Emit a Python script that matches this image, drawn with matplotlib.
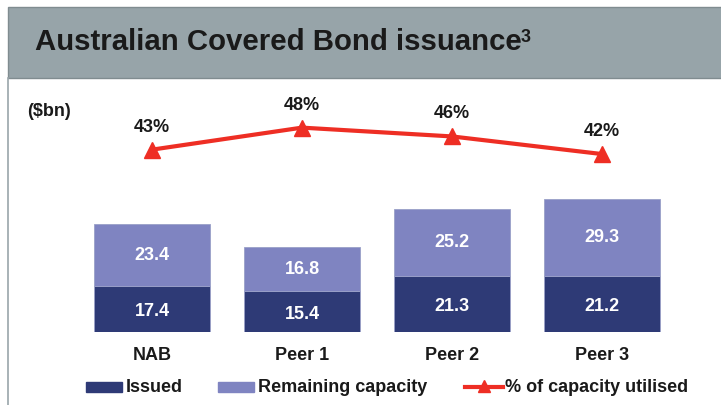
import matplotlib.pyplot as plt
from matplotlib.patches import Rectangle
from matplotlib.lines import Line2D

plt.rcParams['font.family'] = ['Liberation Sans', 'DejaVu Sans']

banks = ['NAB', 'Peer 1', 'Peer 2', 'Peer 3']
issued = [17.4, 15.4, 21.3, 21.2]
remaining = [23.4, 16.8, 25.2, 29.3]
utilised = [43, 48, 46, 42]

dark = '#2E3A76'
light = '#7F84C1'
red = '#EE2E24'
txt = '#1A1A1A'

W, H = 721, 405
fig = plt.figure(figsize=(W / 100, H / 100), dpi=100)


def fx(px):
    return px / W


def fy(py):
    return 1 - py / H


# header band and left border
fig.patches.append(Rectangle((fx(8), fy(78)), 1, 71 / H, transform=fig.transFigure,
                             facecolor='#97A4A9', edgecolor='#808C90', lw=1))
fig.add_artist(Line2D([fx(8), fx(8)], [0, fy(78)], transform=fig.transFigure,
                      color='#9AA5AA', lw=1.2))
fig.text(fx(35), fy(42), 'Australian Covered Bond issuance', fontsize=21.2,
         fontweight='bold', color=txt, va='center', ha='left')
fig.text(fx(521), fy(38), '3', fontsize=13, fontweight='bold', color=txt,
         va='center', ha='left')
fig.text(fx(27), fy(111), '($bn)', fontsize=13, fontweight='bold', color=txt,
         va='center', ha='left')

# bars
ax = fig.add_axes([fx(77), 73 / H, 600 / W, 233 / H])
x = range(len(banks))
ax.bar(x, issued, width=0.77, color=dark, edgecolor='#9AA0C8', lw=0.6)
ax.bar(x, remaining, width=0.77, bottom=issued, color=light, edgecolor='#9AA0C8', lw=0.6)
for i in x:
    ax.text(i, issued[i] / 2 - 0.9, f'{issued[i]:.1f}', ha='center', va='center',
            color='white', fontsize=13, fontweight='bold')
    ax.text(i, issued[i] + remaining[i] / 2, f'{remaining[i]:.1f}', ha='center', va='center',
            color='white', fontsize=13, fontweight='bold')
ax.set_xlim(-0.5, 3.5)
ax.set_ylim(0, 88.3)
ax.set_xticks(list(x))
ax.set_xticklabels(banks, fontsize=13, fontweight='bold', color=txt)
ax.tick_params(axis='x', length=0, pad=11)
ax.set_yticks([])
for s in ax.spines.values():
    s.set_visible(False)
ax.patch.set_alpha(0)

# utilisation line
ax2 = ax.twinx()
ax2.plot(x, utilised, color=red, lw=3, marker='^', markersize=11)
for i in x:
    ax2.text(i, utilised[i] + 3.2, f'{utilised[i]}%', ha='center', va='bottom',
             fontsize=13, fontweight='bold', color=txt)
ax2.set_ylim(1.6, 54.5)
ax2.set_yticks([])
for s in ax2.spines.values():
    s.set_visible(False)

# legend
ly = 387
for x0, x1, col, lab in [(86, 122, dark, 'Issued'), (218, 254, light, 'Remaining capacity')]:
    fig.patches.append(Rectangle((fx(x0), fy(ly + 5)), (x1 - x0) / W, 10 / H,
                                 transform=fig.transFigure, color=col))
    fig.text(fx(x1 + 4), fy(ly), lab, fontsize=13, fontweight='bold', color=txt,
             va='center', ha='left')
fig.add_artist(Line2D([fx(465), fx(503)], [fy(ly), fy(ly)], transform=fig.transFigure,
                      color=red, lw=3))
fig.add_artist(Line2D([fx(484)], [fy(ly - 1)], transform=fig.transFigure,
                      color=red, marker='^', markersize=9, lw=0))
fig.text(fx(505), fy(ly), '% of capacity utilised', fontsize=13, fontweight='bold',
         color=txt, va='center', ha='left')

fig.savefig('out.png', dpi=100)
